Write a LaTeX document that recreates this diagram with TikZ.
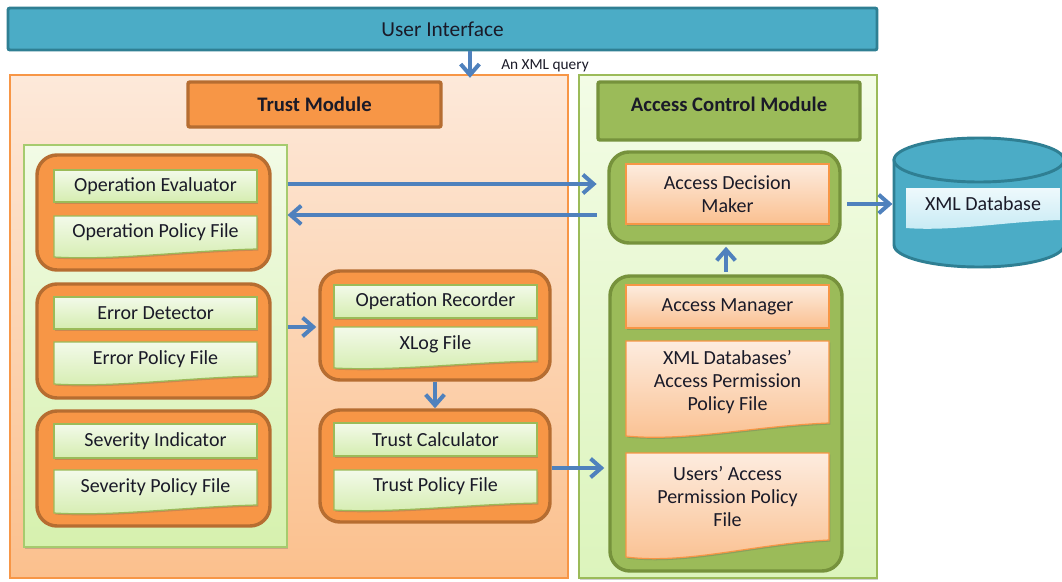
\documentclass[tikz,border=0pt]{standalone}
\usepackage{fontspec}
\setmainfont{Carlito}
\usetikzlibrary{arrows.meta,calc,shadows}
\definecolor{uiFill}{HTML}{4BACC6}
\definecolor{uiDraw}{HTML}{2F7F93}
\definecolor{orgFill}{HTML}{F79646}
\definecolor{orgDraw}{HTML}{B66D31}
\definecolor{grnFill}{HTML}{9BBB59}
\definecolor{grnDraw}{HTML}{76923C}
\definecolor{arrowC}{HTML}{4F81BD}
\definecolor{tmTop}{HTML}{FDE9DA}
\definecolor{tmBot}{HTML}{FBC08D}
\definecolor{acTop}{HTML}{F3FCE6}
\definecolor{acBot}{HTML}{DCF4BC}
\definecolor{tpTop}{HTML}{F2FBE6}
\definecolor{tpBot}{HTML}{D6F1AE}
\definecolor{tpDraw}{HTML}{A6CB6E}
\definecolor{gbTop}{HTML}{F3FAEA}
\definecolor{gbBot}{HTML}{D5EDB0}
\definecolor{gbDraw}{HTML}{9BBB59}
\definecolor{obTop}{HTML}{FDECDF}
\definecolor{obBot}{HTML}{FAC090}
\definecolor{cyTop}{HTML}{EEF9FC}
\definecolor{cyBot}{HTML}{C6EAF4}
\definecolor{txtC}{HTML}{1A1A28}
% rectangle node from pixel corners
\newcommand\boxnode[7]{%
  \node[#1, minimum width={(#5-#3)*0.75pt}, minimum height={(#6-#4)*0.75pt}]
    (#2) at ({(#3+#5)/2},{(#4+#6)/2}) {#7};
}
% document shape with wavy bottom
\newcommand\docnode[8]{%
  \pgfmathsetmacro\dw{#5-#3}%
  \pgfmathsetmacro\dh{#7-#6}%
  \path[#1] (#3,#4) -- (#5,#4) -- (#5,#6)
    .. controls ({#5-0.35*\dw},{#6+0.2*\dh}) and ({#3+0.3*\dw},{#7+0.45*\dh}) .. (#3,#7) -- cycle;
  \node[txt] (#2) at ({(#3+#5)/2},{(#4+#6)/2}) {#8};
}
\begin{document}
\begin{tikzpicture}[x=0.75pt,y=-0.75pt,
  txt/.style={font=\fontsize{15}{17.5}\selectfont, text=txtC, align=center, inner sep=0},
  hdrtxt/.style={font=\bfseries\fontsize{15.5}{18}\selectfont, text=txtC, inner sep=0},
  shd/.style={drop shadow={shadow xshift=1pt, shadow yshift=-1.2pt, opacity=0.3, fill=black!60}},
  tmpanel/.style={draw=orgFill, line width=0.8pt, top color=tmTop, bottom color=tmBot, inner sep=0},
  acmpanel/.style={draw=grnFill, line width=0.8pt, top color=acTop, bottom color=acBot, inner sep=0, shd},
  tppanel/.style={draw=tpDraw, line width=0.8pt, top color=tpTop, bottom color=tpBot, inner sep=0, shd},
  orghdr/.style={draw=orgDraw, line width=2.6pt, fill=orgFill, rounded corners=1.5pt, inner sep=0},
  grnhdr/.style={draw=grnDraw, line width=2.6pt, fill=grnFill, rounded corners=1.5pt, inner sep=0},
  orggrp/.style={draw=orgDraw, line width=2.6pt, fill=orgFill, rounded corners=15pt, inner sep=0},
  grngrp/.style={draw=grnDraw, line width=2.6pt, fill=grnFill, rounded corners=15pt, inner sep=0},
  gbox/.style={txt, draw=gbDraw, line width=0.9pt, top color=gbTop, bottom color=gbBot, shd},
  obox/.style={txt, draw=orgFill, line width=0.9pt, top color=obTop, bottom color=obBot, shd},
  cbox/.style={txt, draw=none, top color=cyTop, bottom color=cyBot},
  uibar/.style={draw=uiDraw, line width=2.2pt, fill=uiFill, rounded corners=1.5pt, inner sep=0,
      font=\fontsize{16}{19}\selectfont, text=txtC},
  arr/.style={draw=arrowC, line width=3pt, -{Straight Barb[length=8pt,width=14pt]}}
]
\fill[white] (0,0) rectangle (1062,581);
\useasboundingbox (0,0) rectangle (1062,581);

% user interface
\boxnode{uibar}{ui}{8}{8}{877}{50}{User Interface}

% panels
\boxnode{tmpanel}{tm}{10}{75}{568}{578}{}
\boxnode{acmpanel}{acm}{579}{75}{877}{578}{}
\boxnode{orghdr,hdrtxt}{tmh}{188}{82}{441}{127}{Trust Module}
\boxnode{grnhdr}{acmh}{598}{82}{860}{140}{}
\node[hdrtxt] (acmht) at (729,104) {Access Control Module};
\boxnode{tppanel}{tp}{24}{145}{287}{547}{}

% trust groups
\boxnode{orggrp}{g1}{37}{155}{270}{270}{}
\boxnode{gbox}{oe}{54}{170}{257}{202}{Operation Evaluator}
\docnode{gbox}{opf}{54}{216}{257}{249}{257}{Operation Policy File}

\boxnode{orggrp}{g2}{37}{284}{270}{398}{}
\boxnode{gbox}{ed}{54}{297}{257}{329}{Error Detector}
\docnode{gbox}{epf}{54}{342}{257}{376}{384}{Error Policy File}

\boxnode{orggrp}{g3}{37}{411}{270}{526}{}
\boxnode{gbox}{si}{54}{424}{257}{458}{Severity Indicator}
\docnode{gbox}{spf}{54}{470}{257}{505}{513}{Severity Policy File}

\boxnode{orggrp}{g4}{320}{271}{550}{380}{}
\boxnode{gbox}{orc}{334}{285}{537}{318}{Operation Recorder}
\docnode{gbox}{xlog}{334}{327}{537}{361}{368}{XLog File}

\boxnode{orggrp}{g5}{320}{410}{550}{522}{}
\boxnode{gbox}{tc}{334}{423}{537}{456}{Trust Calculator}
\docnode{gbox}{tpf}{334}{470}{537}{503}{510}{Trust Policy File}

% access control groups
\boxnode{grngrp}{admg}{609}{152}{840}{243}{}
\boxnode{obox}{adm}{626}{164}{829}{224}{Access Decision\\Maker}

\boxnode{grngrp}{amg}{610}{276}{842}{571}{}
\boxnode{obox}{am}{626}{285}{829}{328}{Access Manager}
\docnode{obox}{xdb}{626}{341}{829}{423}{436}{XML Databases’\\Access Permission\\Policy File}
\docnode{obox}{uap}{626}{453}{829}{540}{557}{Users’ Access\\Permission Policy\\File}

% database cylinder
\path[fill=uiFill, draw=uiDraw, line width=2.2pt] (894,160) -- (894,245)
   arc[start angle=180, end angle=0, x radius=85, y radius=22] -- (1064,160) -- cycle;
\draw[fill=uiFill, draw=uiDraw, line width=2.2pt] (979,160) ellipse [x radius=85, y radius=22];
\boxnode{inner sep=0}{db}{894}{138}{1064}{267}{}
\docnode{cbox}{xmld}{906}{188}{1060}{220}{228}{XML Database}

% connectors
\coordinate (qx) at (470,0);
\coordinate (y184) at (0,184);
\coordinate (y215) at (0,215);
\coordinate (y204) at (0,204);
\coordinate (y327) at (0,327);
\coordinate (y468) at (0,468);
\draw[arr, shorten >=-2.5pt] (ui.south -| qx) -- (tm.north -| qx);
\node[font=\fontsize{11.5}{13}\selectfont, text=txtC, inner sep=0] (xq) at (545,66) {An XML query};
\draw[arr, shorten >=8pt] (tp.east |- y184) -- (admg.west |- y184);
\draw[arr, shorten <=8pt] (admg.west |- y215) -- (tp.east |- y215);
\draw[arr, shorten >=1.5pt] (tp.east |- y327) -- (g4.west |- y327);
\draw[arr] (g4.south) -- (g5.north);
\draw[arr, shorten >=3pt] (g5.east |- y468) -- (amg.west |- y468);
\draw[arr, shorten <=2pt, shorten >=1.5pt] (amg.north) -- (admg.south -| amg.north);
\draw[arr, shorten <=4pt, shorten >=1pt] (admg.east |- y204) -- (db.west |- y204);
\end{tikzpicture}
\end{document}
